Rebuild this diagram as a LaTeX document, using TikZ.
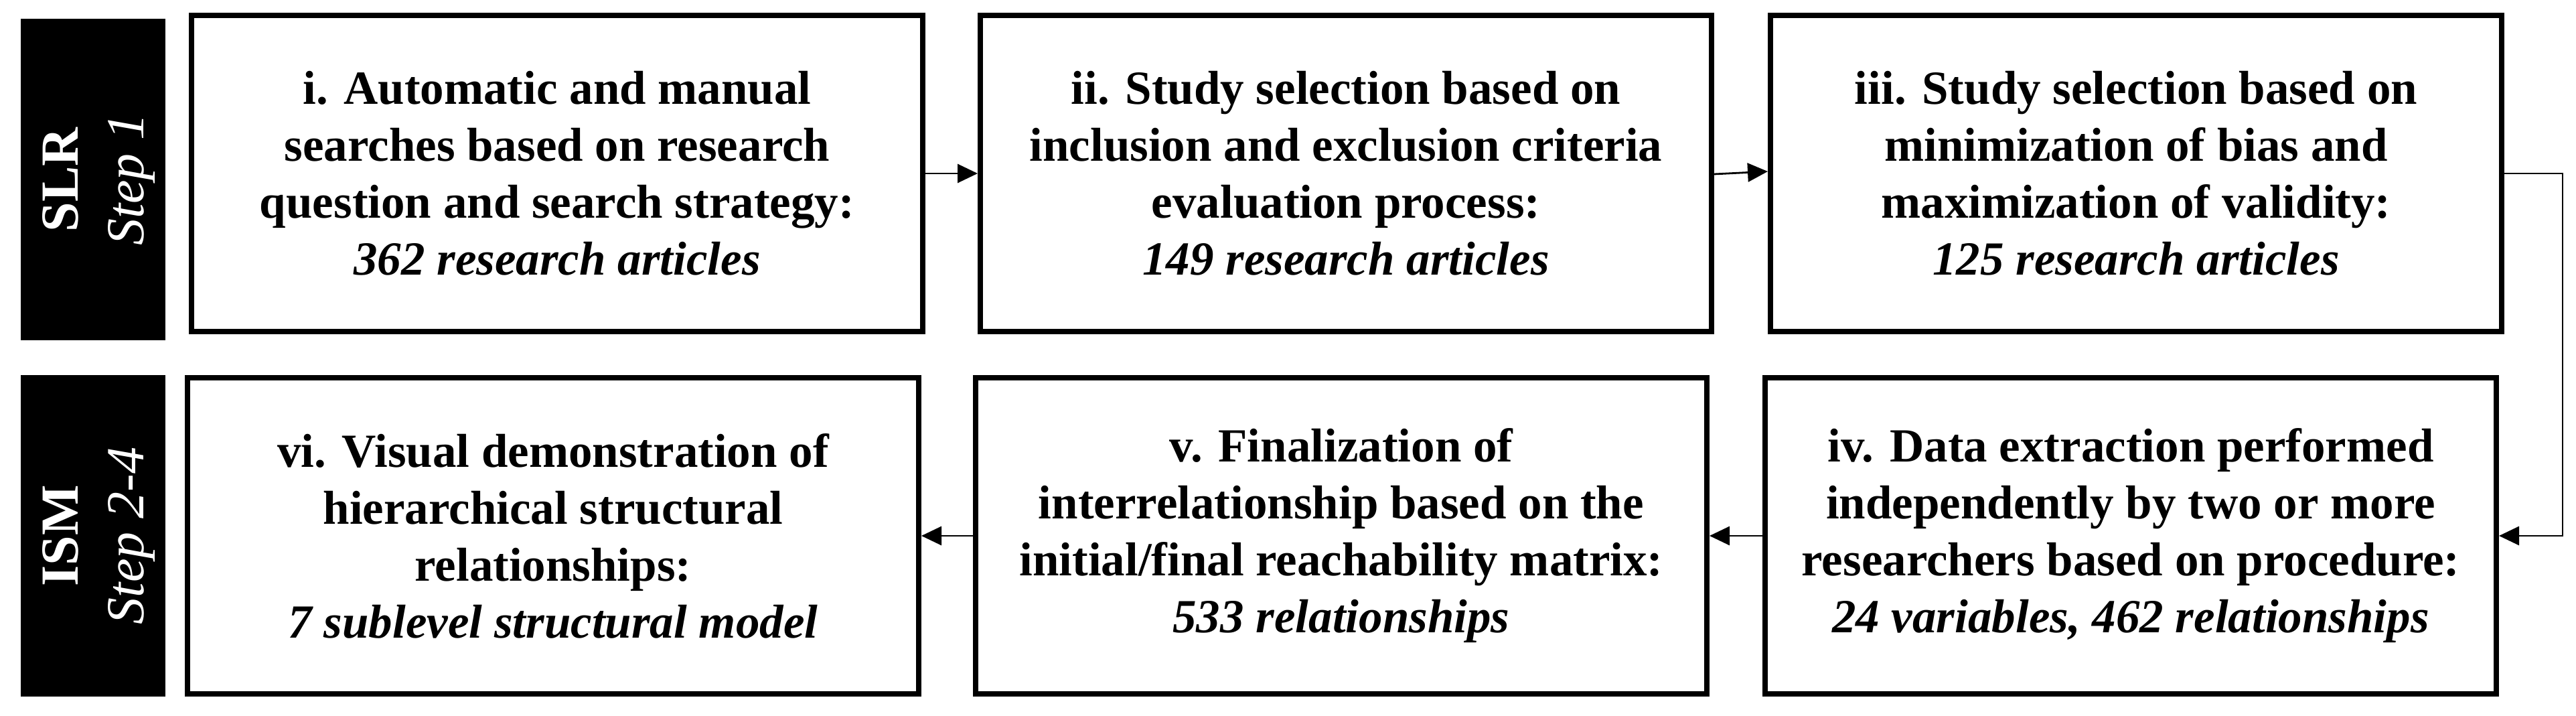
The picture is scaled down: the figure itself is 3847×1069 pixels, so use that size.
\documentclass[tikz,border=0pt]{standalone}
\usepackage{fontspec}
\setmainfont{Liberation Serif}
\usetikzlibrary{arrows.meta}
\begin{document}
\begin{tikzpicture}[x=0.25pt,y=-0.25pt,
  procbox/.style={draw=black, line width=1.9pt, fill=white, minimum width=273.1pt, minimum height=118.1pt, inner sep=0pt, align=center, font=\fontsize{17.75}{21.25}\selectfont\bfseries},
  sidebox/.style={fill=black, minimum width=54pt, minimum height=120pt, inner sep=0pt},
  sidelabel/.style={text=white, rotate=90, align=center, inner sep=0pt, font=\fontsize{20}{24.5}\selectfont},
  arr/.style={line width=0.7pt, -{Triangle[length=7.5pt,width=7pt]}},
]
\useasboundingbox (0,0) rectangle (3847,1069);

% side bars
\node[sidebox] (slr) at (139,268) {};
\node[sidelabel] (slrt) at (148,268) {\textbf{SLR}\\\textit{Step 1}};
\node[sidebox] (ism) at (139,800) {};
\node[sidelabel] (ismt) at (148,800) {\textbf{ISM}\\\textit{Step 2-4}};

% top row
\node[procbox] (i) at (832,259) {i. Automatic and manual\\searches based on research\\question and search strategy:\\\itshape 362 research articles};
\node[procbox] (ii) at (2010,259) {ii. Study selection based on\\inclusion and exclusion criteria\\evaluation process:\\\itshape 149 research articles};
\node[procbox] (iii) at (3190,259) {iii. Study selection based on\\minimization of bias and\\maximization of validity:\\\itshape 125 research articles};

% bottom row
\node[procbox] (vi) at (826,800) {vi. Visual demonstration of\\hierarchical structural\\relationships:\\\itshape 7 sublevel structural model};
\node[procbox] (v) at (2003,800) {v. Finalization of\\interrelationship based on the\\initial/final reachability matrix:\\\itshape 533 relationships};
\node[procbox] (iv) at (3182,800) {iv. Data extraction performed\\independently by two or more\\researchers based on procedure:\\\itshape 24 variables, 462 relationships};

% connectors
\coordinate (rx) at (3827,259);
\draw[arr] (i.east) -- (ii.west);
\draw[arr] ([yshift=-0.25pt]ii.east) -- ([yshift=0.75pt]iii.west);
\draw[arr] (iii.east) -- (rx) |- (iv.east);
\draw[arr] (iv.west) -- (v.east);
\draw[arr] (v.west) -- (vi.east);
\end{tikzpicture}
\end{document}
